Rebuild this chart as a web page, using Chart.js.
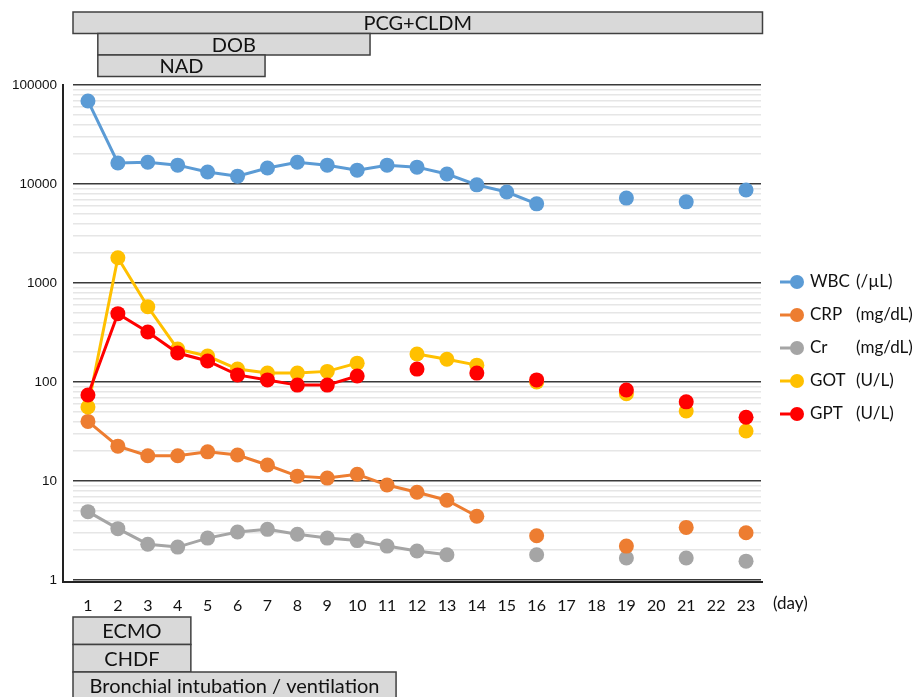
<!DOCTYPE html>
<html>
<head>
<meta charset="utf-8">
<script src="https://cdn.jsdelivr.net/npm/chart.js@4"></script>
<style>
  html, body { margin: 0; padding: 0; background: #fff; }
  canvas { display: block; }
</style>
</head>
<body>
<canvas id="labChart" width="922" height="697"></canvas>
<script>
const days = ['1','2','3','4','5','6','7','8','9','10','11','12','13','14','15','16','17','18','19','20','21','22','23'];

const wbc = [69000, 16300, 16600, 15500, 13200, 12000, 14500, 16600, 15500, 13800, 15500, 14800, 12600, 9800, 8300, 6300, null, null, 7200, null, 6600, null, 8700];
const crp = [40, 22.5, 18, 18, 19.7, 18.3, 14.5, 11.2, 10.7, 11.7, 9.1, 7.7, 6.4, 4.4, null, 2.8, null, null, 2.2, null, 3.4, null, 3.0];
const cr  = [4.9, 3.3, 2.3, 2.15, 2.65, 3.05, 3.25, 2.9, 2.65, 2.5, 2.2, 1.96, 1.8, null, null, 1.8, null, null, 1.67, null, 1.67, null, 1.55];
const got = [56, 1800, 575, 215, 183, 135, 123, 123, 128, 155, null, 192, 170, 148, null, 100, null, null, 76, null, 51, null, 32];
const gpt = [74, 490, 320, 196, 163, 118, 105, 93, 93, 115, null, 135, null, 123, null, 105, null, null, 83, null, 63, null, 44];

const seriesNames = ['WBC', 'CRP', 'Cr', 'GOT', 'GPT'];
const seriesUnits = ['(/µL)', '(mg/dL)', '(mg/dL)', '(U/L)', '(U/L)'];
const seriesColors = ['#5b9bd5', '#ed7d31', '#a5a5a5', '#ffc000', '#ff0000'];

const decades = [1, 10, 100, 1000, 10000, 100000];

// treatment periods, in days (start, end)
const topBars = [
  { label: 'PCG+CLDM', start: 0.5, end: 23.55, row: 0 },
  { label: 'DOB', start: 1.33, end: 10.43, row: 1 },
  { label: 'NAD', start: 1.33, end: 6.92, row: 2 }
];
const bottomBars = [
  { label: 'ECMO', start: 0.5, end: 4.44, row: 0 },
  { label: 'CHDF', start: 0.5, end: 4.44, row: 1 },
  { label: 'Bronchial intubation / ventilation', start: 0.5, end: 11.3, row: 2 }
];

const FONT = 'Lato, "Open Sans", sans-serif';

const yTicks = [];
decades.slice(0, -1).forEach(d => { for (let k = 1; k < 10; k++) yTicks.push(d * k); });
yTicks.push(decades[decades.length - 1]);

const isDecade = v => decades.includes(v);

function drawBar(ctx, xs, bar, y0, h) {
  const x0 = xs.getPixelForValue(bar.start - 1);
  const x1 = xs.getPixelForValue(bar.end - 1);
  const y = y0 + bar.row * h;
  ctx.fillStyle = '#d9d9d9';
  ctx.fillRect(x0, y, x1 - x0, h);
  ctx.strokeStyle = '#404040';
  ctx.lineWidth = 1.5;
  ctx.strokeRect(x0, y, x1 - x0, h);
  ctx.fillStyle = '#111';
  ctx.font = '20px ' + FONT;
  ctx.textAlign = 'center';
  ctx.textBaseline = 'middle';
  ctx.fillText(bar.label, (x0 + x1) / 2, y + h / 2 + 1);
}

const decorations = {
  id: 'decorations',
  afterDraw(chart) {
    const ctx = chart.ctx;
    const xs = chart.scales.x;
    const area = chart.chartArea;
    ctx.save();

    // axis lines
    ctx.strokeStyle = '#222';
    ctx.lineWidth = 2;
    ctx.beginPath();
    ctx.moveTo(63, area.top - 1);
    ctx.lineTo(63, area.bottom + 2);
    ctx.lineTo(area.right + 2, area.bottom + 2);
    ctx.stroke();

    topBars.forEach(b => drawBar(ctx, xs, b, 12, 21.5));
    bottomBars.forEach(b => drawBar(ctx, xs, b, 617, 27.5));

    // x axis unit
    ctx.fillStyle = '#111';
    ctx.font = '17px ' + FONT;
    ctx.textAlign = 'left';
    ctx.textBaseline = 'middle';
    ctx.fillText('(day)', 773, 604);

    // legend
    seriesNames.forEach((name, i) => {
      const y = 282 + i * 33;
      ctx.strokeStyle = seriesColors[i];
      ctx.lineWidth = 3;
      ctx.beginPath();
      ctx.moveTo(780, y);
      ctx.lineTo(798, y);
      ctx.stroke();
      ctx.fillStyle = seriesColors[i];
      ctx.beginPath();
      ctx.arc(797, y, 7, 0, Math.PI * 2);
      ctx.fill();
      ctx.fillStyle = '#111';
      ctx.font = '17px ' + FONT;
      ctx.textAlign = 'left';
      ctx.textBaseline = 'middle';
      ctx.fillText(name, 810, y);
      ctx.fillText(seriesUnits[i], 856, y);
    });
    ctx.restore();
  }
};

const seriesData = [wbc, crp, cr, got, gpt];
const drawOrder = [5, 3, 4, 2, 1];

new Chart(document.getElementById('labChart'), {
  type: 'line',
  data: {
    labels: days,
    datasets: seriesData.map((d, i) => ({
      label: seriesNames[i],
      data: d,
      borderColor: seriesColors[i],
      backgroundColor: seriesColors[i],
      pointBackgroundColor: seriesColors[i],
      pointBorderWidth: 0,
      pointRadius: 7.5,
      borderWidth: 3,
      order: drawOrder[i],
      spanGaps: false
    }))
  },
  options: {
    responsive: false,
    animation: false,
    events: [],
    layout: { padding: { top: 85, right: 161, left: 0, bottom: 0 } },
    plugins: { legend: { display: false }, tooltip: { enabled: false } },
    scales: {
      x: {
        type: 'category',
        offset: true,
        grid: { display: false, drawTicks: false },
        border: { display: false },
        ticks: { color: '#111', font: { family: FONT, size: 16 }, padding: 16, autoSkip: false, maxRotation: 0 },
        afterFit(scale) { scale.height = 117; }
      },
      y: {
        type: 'logarithmic',
        min: 1,
        max: 100000,
        border: { display: false },
        grid: {
          drawTicks: false,
          color: c => isDecade(c.tick.value) ? '#3a3a3a' : '#e6e6e6',
          lineWidth: 1.5
        },
        ticks: {
          autoSkip: false,
          color: '#111',
          font: { family: '"Liberation Sans", Arial, sans-serif', size: 13.5 },
          padding: 16,
          callback: v => isDecade(v) ? String(v) : ''
        },
        afterBuildTicks(scale) { scale.ticks = yTicks.map(v => ({ value: v })); },
        afterFit(scale) { scale.width = 73; }
      }
    }
  },
  plugins: [decorations]
});
</script>
</body>
</html>
